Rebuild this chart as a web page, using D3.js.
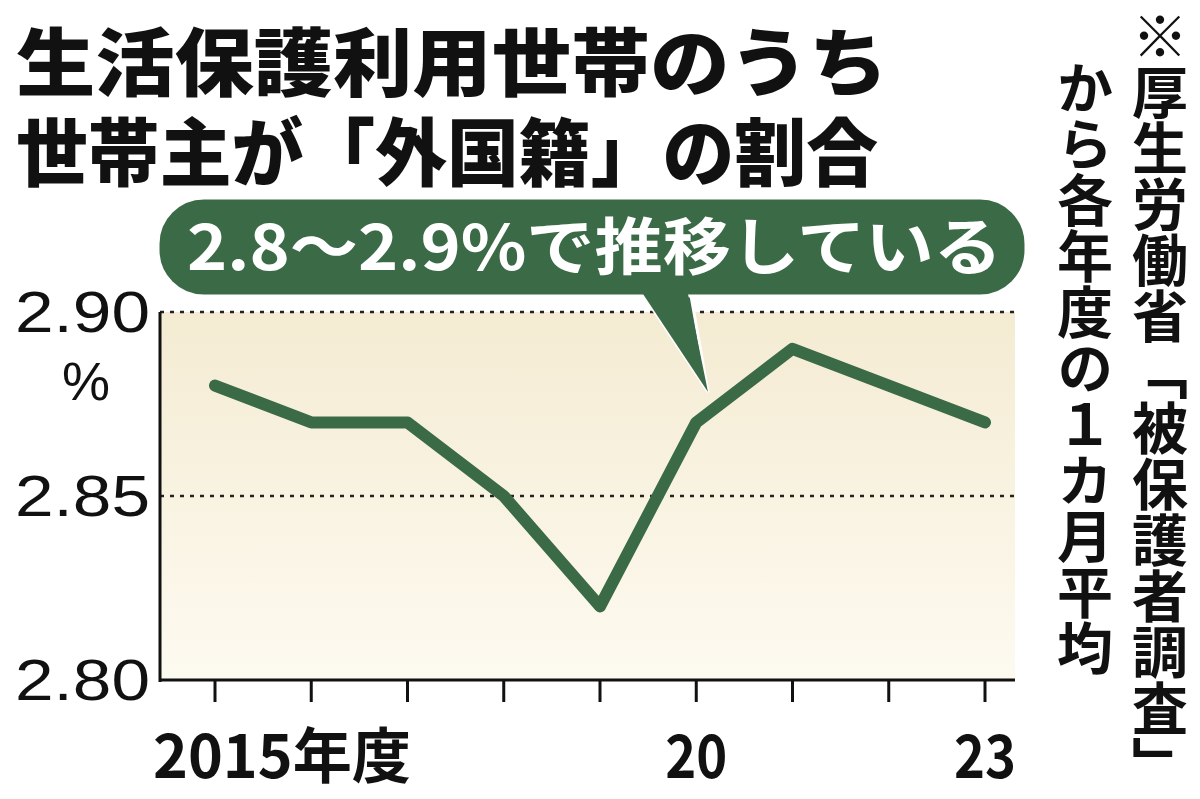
<!DOCTYPE html><html><head><meta charset="utf-8">
<script src="https://cdn.jsdelivr.net/npm/d3@7"></script>
<style>body{margin:0;background:#fff}</style></head><body>
<svg id="c" width="1200" height="799"></svg>
<script>
const years=["2015","2016","2017","2018","2019","2020","2021","2022","2023"];
const values=[2.88,2.87,2.87,2.85,2.82,2.87,2.89,2.88,2.87];
const yTicks=[2.80,2.85,2.90];
const xLabels={"2015":"2015年度","2020":"20","2023":"23"};
const titleLines=["生活保護利用世帯のうち","世帯主が「外国籍」の割合"];
const callout="2.8～2.9%で推移している";
const noteCols=["※厚生労働省「被保護者調査」","から各年度の１カ月平均"];

const svg=d3.select("#c");
const F="'Noto Sans CJK JP',sans-serif";
const green="#3b6a47";
const L=160,R=1015,T=312,B=680;
const x=d3.scalePoint().domain(years).range([215,985]);
const y=d3.scaleLinear().domain([2.80,2.90]).range([B,T]);

const defs=svg.append("defs");
const g=defs.append("linearGradient").attr("id","bg").attr("x1",0).attr("x2",0).attr("y1",0).attr("y2",1);
g.append("stop").attr("offset","0").attr("stop-color","#f4ebd2");
g.append("stop").attr("offset","1").attr("stop-color","#fdfaf0");
svg.append("rect").attr("x",L).attr("y",T).attr("width",R-L).attr("height",B-T).attr("fill","url(#bg)");

const tLens=[872,862];
titleLines.forEach((t,i)=>svg.append("text").attr("x",16).attr("y",90+i*90).attr("font-family",F)
 .attr("font-weight",900).attr("font-size",74).attr("fill","#111")
 .attr("textLength",tLens[i]).attr("lengthAdjust","spacingAndGlyphs").text(t));

[2.85,2.90].forEach(v=>svg.append("line").attr("x1",L).attr("x2",R).attr("y1",y(v)).attr("y2",y(v))
 .attr("stroke","#222").attr("stroke-width",2.5).attr("stroke-dasharray","4,6"));
svg.append("line").attr("x1",L).attr("x2",L).attr("y1",T).attr("y2",B+2).attr("stroke","#111").attr("stroke-width",3);
svg.append("line").attr("x1",L).attr("x2",R).attr("y1",B).attr("y2",B).attr("stroke","#111").attr("stroke-width",3);
years.forEach(d=>svg.append("line").attr("x1",x(d)).attr("x2",x(d)).attr("y1",B).attr("y2",B+22)
 .attr("stroke","#111").attr("stroke-width",3));

yTicks.forEach(v=>svg.append("text").attr("x",150).attr("y",y(v)+20).attr("text-anchor","end")
 .attr("font-family","'Liberation Sans',sans-serif").attr("font-size",58).attr("fill","#111")
 .attr("textLength",135).attr("lengthAdjust","spacingAndGlyphs").text(v.toFixed(2)));
svg.append("text").attr("x",86).attr("y",400).attr("text-anchor","middle").attr("font-family","'Liberation Sans',sans-serif")
 .attr("font-size",54).attr("fill","#111").text("%");

years.filter(d=>xLabels[d]).forEach(d=>{
 const t=svg.append("text").attr("y",778).attr("font-family",F).attr("font-weight",700).attr("font-size",60).attr("fill","#111")
  .attr("lengthAdjust","spacingAndGlyphs").text(xLabels[d]);
 if(d==="2015") t.attr("x",153).attr("textLength",258);
 else t.attr("x",x(d)).attr("text-anchor","middle").attr("textLength",62);
});

svg.append("path").datum(values).attr("fill","none").attr("stroke",green).attr("stroke-width",12)
 .attr("stroke-linejoin","round").attr("stroke-linecap","round")
 .attr("d",d3.line().x((d,i)=>x(years[i])).y(d=>y(d)));

svg.append("path").attr("d","M640,290 L708,392 L690,290 Z").attr("fill",green).attr("stroke","#fff").attr("stroke-width",3);
svg.append("rect").attr("x",158).attr("y",198).attr("width",868).attr("height",98).attr("rx",46)
 .attr("fill",green).attr("stroke","#fff").attr("stroke-width",3);
svg.append("path").attr("d","M643,294 L708,392 L688,294 Z").attr("fill",green);
svg.append("text").attr("x",187).attr("y",270).attr("font-family",F).attr("font-weight",700)
 .attr("font-size",62).attr("fill","#fff").attr("textLength",815).attr("lengthAdjust","spacingAndGlyphs").text(callout);

noteCols.forEach((t,i)=>svg.append("text").attr("x",i===0?1160:1085).attr("y",i===0?8:60)
 .attr("writing-mode","vertical-rl").attr("font-family",F).attr("font-weight",700).attr("font-size",56)
 .attr("fill","#111").attr("dominant-baseline","central").text(t));
</script></body></html>
